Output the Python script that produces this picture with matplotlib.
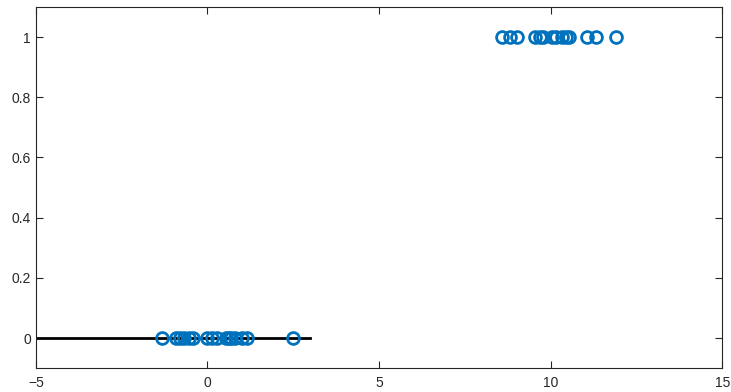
import matplotlib
matplotlib.use("Agg")
import matplotlib.pyplot as plt

plt.rcParams["font.family"] = ["Liberation Sans", "DejaVu Sans"]

# class 0 samples (y = 0) and class 1 samples (y = 1)
x_neg = [-1.31, -0.91, -0.79, -0.67, -0.53, -0.41, 0.0, 0.12, 0.29, 0.53,
         0.64, 0.70, 0.79, 1.02, 1.14, 2.48]
x_pos = [8.58, 8.82, 9.02, 9.55, 9.69, 9.78, 10.04, 10.16, 10.34, 10.45,
         10.54, 11.07, 11.33, 11.91]
line_x = [-5, 3]
line_y = [0, 0]

fig = plt.figure(figsize=(7.31, 3.92), dpi=100)
ax = fig.add_axes([0.049, 0.061, 0.939, 0.921])

ax.plot(line_x, line_y, color="black", linewidth=2)
ax.plot(x_neg, [0] * len(x_neg), "o", mfc="none", mec="#0072BD", mew=2, ms=8.5)
ax.plot(x_pos, [1] * len(x_pos), "o", mfc="none", mec="#0072BD", mew=2, ms=8.5)

ax.set_xlim(-5, 15)
ax.set_ylim(-0.1, 1.1)
ax.set_xticks([-5, 0, 5, 10, 15])
ax.set_yticks([0, 0.2, 0.4, 0.6, 0.8, 1])
ax.set_yticklabels(["0", "0.2", "0.4", "0.6", "0.8", "1"])
ax.tick_params(direction="in", top=True, right=True, labelsize=10,
               colors="#262626", length=5, width=0.8)
ax.tick_params(axis="x", pad=6)
for s in ax.spines.values():
    s.set_color("#262626")
    s.set_linewidth(0.8)

fig.savefig("out.png", dpi=100)
